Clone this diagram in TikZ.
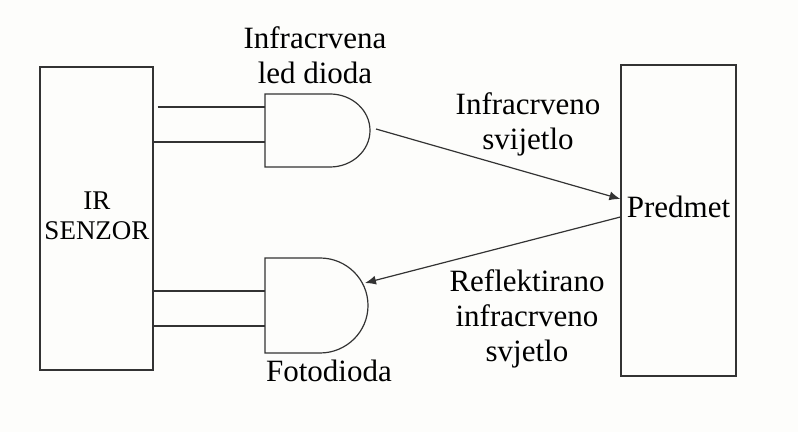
\documentclass[tikz,border=0pt]{standalone}
\usepackage{fontspec}
\setmainfont{Liberation Serif}
\usetikzlibrary{arrows.meta}
\definecolor{linegray}{HTML}{333333}
\definecolor{paper}{HTML}{FDFDFB}
\tikzset{
  box/.style={draw=linegray,line width=0.6pt,inner sep=0pt},
  gate/.style={draw=linegray,line width=0.6pt},
  wire/.style={draw=linegray,line width=0.6pt},
  ray/.style={draw=linegray,line width=0.6pt,-{Latex[length=5.5pt,width=4.5pt]}},
  lbl/.style={align=center,inner sep=0pt,font=\fontsize{15.5}{17.5}\selectfont},
}
\begin{document}
\begin{tikzpicture}[x=0.5pt,y=-0.5pt]
\fill[paper] (0,0) rectangle (798,432);
\useasboundingbox (0,0) rectangle (798,432);

% sensor block
\node[box,minimum width=56.5pt,minimum height=151.5pt] (senzor) at (96.5,218.5) {};
\node[align=center,inner sep=0pt,font=\fontsize{13.5}{15}\selectfont] (senzortxt) at (97,216) {IR\\SENZOR};

% object
\node[box,minimum width=57.5pt,minimum height=155.5pt] (predmet) at (678.5,220.5) {};
\node[lbl,anchor=base] (predmettxt) at (678.5,218) {Predmet};

% led diode
\draw[gate] (265,94) -- (330,94) arc[start angle=90,end angle=-90,x radius=20pt,y radius=18.25pt] -- (265,167) -- cycle;
\coordinate (ledin1) at (265,107);
\coordinate (ledin2) at (265,142);
\coordinate (ledout) at (376,129);
\node[lbl] (ledtxt) at (315,55) {Infracrvena\\led dioda};

% photodiode
\draw[gate] (265,258) -- (320,258) arc[start angle=90,end angle=-90,x radius=24pt,y radius=23.75pt] -- (265,353) -- cycle;
\coordinate (fotoin1) at (265,291);
\coordinate (fotoin2) at (265,326);
\coordinate (fotoout) at (365,283);
\node[lbl,anchor=base] (fototxt) at (329,382) {Fotodioda};

% wires
\draw[wire] ([xshift=2pt]senzor.east |- ledin1) -- (ledin1);
\draw[wire] (senzor.east |- ledin2) -- (ledin2);
\draw[wire] (senzor.east |- fotoin1) -- (fotoin1);
\draw[wire] (senzor.east |- fotoin2) -- (fotoin2);

% light rays
\draw[ray] (ledout) -- (predmet.west |- 0,199);
\node[lbl] (irtxt) at (528,124) {Infracrveno\\svijetlo};
\draw[ray] (predmet.west |- 0,217) -- (fotoout);
\node[lbl] (reftxt) at (527,319) {Reflektirano\\infracrveno\\svjetlo};
\end{tikzpicture}
\end{document}
